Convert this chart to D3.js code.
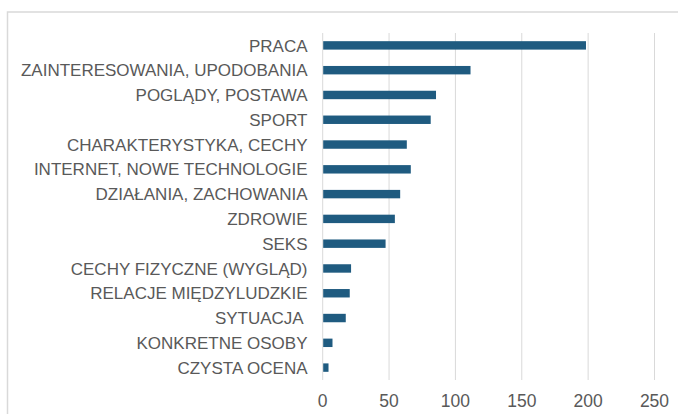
<!DOCTYPE html>
<html>
<head>
<meta charset="utf-8">
<script src="https://cdn.jsdelivr.net/npm/d3@7"></script>
<style>
  body { margin: 0; background: #fff; }
  .cat, .tick-label { font-family: "Liberation Sans", Arial, sans-serif; fill: #595959; }
  .cat { white-space: pre; }
</style>
</head>
<body>
<div id="chart"></div>
<script>
// categories, top to bottom
var categories = ["PRACA", "ZAINTERESOWANIA, UPODOBANIA", "POGLĄDY, POSTAWA", "SPORT",
  "CHARAKTERYSTYKA, CECHY", "INTERNET, NOWE TECHNOLOGIE", "DZIAŁANIA, ZACHOWANIA",
  "ZDROWIE", "SEKS", "CECHY FIZYCZNE (WYGLĄD)", "RELACJE MIĘDZYLUDZKIE", "SYTUACJA ",
  "KONKRETNE OSOBY", "CZYSTA OCENA"];
var values = [198, 111, 85, 81, 63, 66, 58, 54, 47, 21, 20, 17, 7, 4];
var ticks = [0, 50, 100, 150, 200, 250];

var W = 678, H = 414;
var margin = {top: 33, left: 322.7, right: 23.5, bottom: 34};

var svg = d3.select("#chart").append("svg")
  .attr("width", W).attr("height", H);

// chart frame (runs off the right and bottom edges)
svg.append("rect")
  .attr("x", 7.5).attr("y", 12)
  .attr("width", 720).attr("height", 440)
  .attr("fill", "none")
  .attr("stroke", "#d9d9d9")
  .attr("stroke-width", 1.5);

var x = d3.scaleLinear().domain([0, 250]).range([margin.left, W - margin.right]);
var y = d3.scaleBand().domain(categories)
  .range([margin.top, H - margin.bottom])
  .paddingInner(0.66).paddingOuter(0.33);

// gridlines
svg.append("g").selectAll("line")
  .data(ticks).enter().append("line")
  .attr("x1", function(d) { return x(d); })
  .attr("x2", function(d) { return x(d); })
  .attr("y1", margin.top).attr("y2", H - margin.bottom)
  .attr("stroke", "#d9d9d9").attr("stroke-width", 1);

// x tick labels
svg.append("g").selectAll("text")
  .data(ticks).enter().append("text")
  .attr("class", "tick-label")
  .attr("x", function(d) { return x(d); })
  .attr("y", 406.5)
  .attr("text-anchor", "middle")
  .style("font-size", "17.5px")
  .text(function(d) { return d; });

// bars
svg.append("g").selectAll("rect")
  .data(values).enter().append("rect")
  .attr("x", x(0) + 0.5)
  .attr("y", function(d, i) { return y(categories[i]); })
  .attr("width", function(d) { return x(d) - x(0); })
  .attr("height", y.bandwidth())
  .attr("fill", "#1f5b80");

// category labels
svg.append("g").selectAll("text")
  .data(categories).enter().append("text")
  .attr("class", "cat")
  .attr("x", 307.5)
  .attr("y", function(d) { return y(d) + y.bandwidth() / 2; })
  .attr("dy", "0.36em")
  .attr("text-anchor", "end")
  .style("font-size", "17px")
  .text(function(d) { return d; });
</script>
</body>
</html>
